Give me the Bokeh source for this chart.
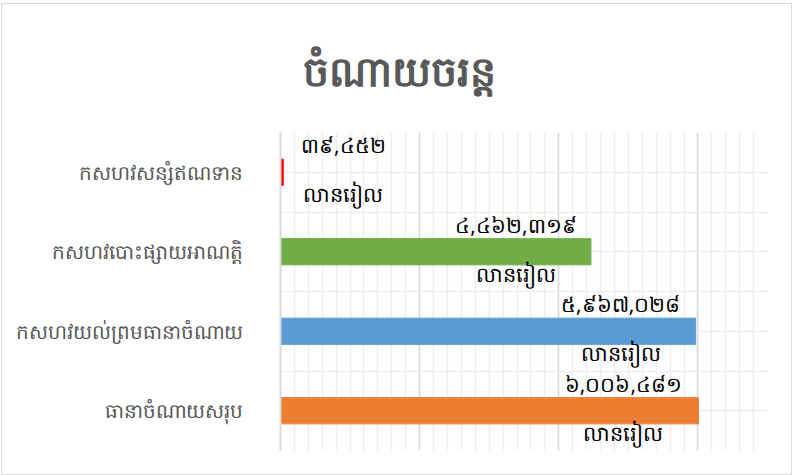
from bokeh.plotting import figure
from bokeh.models import ColumnDataSource, FixedTicker, Title
from bokeh.embed import file_html
from bokeh.resources import INLINE
from bokeh.core.properties import value

# ---- data ----
title_text = "ចំណាយចរន្ត"
categories = ["កសហវសន្សំឥណទាន", "កសហវបោះផ្សាយអាណត្តិ", "កសហវយល់ព្រមធានាចំណាយ", "ធានាចំណាយសរុប"]
amounts = [39452, 4462319, 5967028, 6006481]
amount_labels = ["៣៩,៤៥២", "៤,៤៦២,៣១៩", "៥,៩៦៧,០២៨", "៦,០០៦,៤៨១"]
unit_label = "លានរៀល"
bar_colors = ["#FF0000", "#70AD47", "#5B9BD5", "#ED7D31"]

n = len(categories)
ypos = [n - 0.5 - i for i in range(n)]
label_offsets = [-75 if a > 1_000_000 else 60 for a in amounts]

src = ColumnDataSource(dict(
    y=ypos, amt=amounts, color=bar_colors, lab=amount_labels,
    unit=[unit_label] * n, xo=label_offsets,
))

W, H = 791, 472
p = figure(width=W, height=H, output_backend="svg", toolbar_location=None,
           x_range=(0, 7_000_000), y_range=(0, n),
           min_border_left=278, min_border_right=26,
           min_border_top=122, min_border_bottom=26)
p.styles = {"position": "absolute", "left": "1px", "top": "3px",
            "border": "1px solid #d9d9d9", "box-sizing": "border-box"}

font = value("Noto Sans")

t = Title(text=title_text, align="left", offset=22, standoff=70,
          text_font_size="41px", text_font_style="bold",
          text_color="#595959", text_font="Noto Sans")
p.title = t

p.outline_line_color = None
p.xaxis.visible = False

p.yaxis.ticker = FixedTicker(ticks=ypos, minor_ticks=list(range(n + 1)))
p.yaxis.major_label_overrides = {y: c for y, c in zip(ypos, categories)}
p.yaxis.major_tick_line_color = None
p.yaxis.minor_tick_line_color = None
p.yaxis.axis_line_color = "#d9d9d9"
p.yaxis.axis_line_width = 2
p.yaxis.major_label_text_font_size = "20px"
p.yaxis.major_label_text_color = "#595959"
p.yaxis.major_label_text_font = "Noto Sans"
p.yaxis.major_label_standoff = 32

p.xaxis.ticker = FixedTicker(ticks=[0, 2e6, 4e6, 6e6],
                             minor_ticks=[i * 2e5 for i in range(36)])
p.xgrid.grid_line_color = "#d9d9d9"
p.xgrid.grid_line_width = 1.5
p.xgrid.minor_grid_line_color = "#eeeeee"
p.xgrid.minor_grid_line_width = 1.5
p.ygrid.grid_line_color = "#eeeeee"
p.ygrid.grid_line_width = 1.5
p.ygrid.minor_grid_line_color = "#eeeeee"
p.ygrid.minor_grid_line_width = 1.5

p.hbar(y="y", left=0, right="amt", height=0.33, color="color", source=src)

p.text(x="amt", y="y", text="lab", source=src, x_offset="xo", y_offset=-13,
       text_align="center", text_baseline="bottom", text_font=font,
       text_font_size="21px", text_color="#000000")
p.text(x="amt", y="y", text="unit", source=src, x_offset="xo", y_offset=8,
       text_align="center", text_baseline="top", text_font=font,
       text_font_size="21px", text_color="#000000")

open("out.html", "w").write(file_html(p, INLINE))
